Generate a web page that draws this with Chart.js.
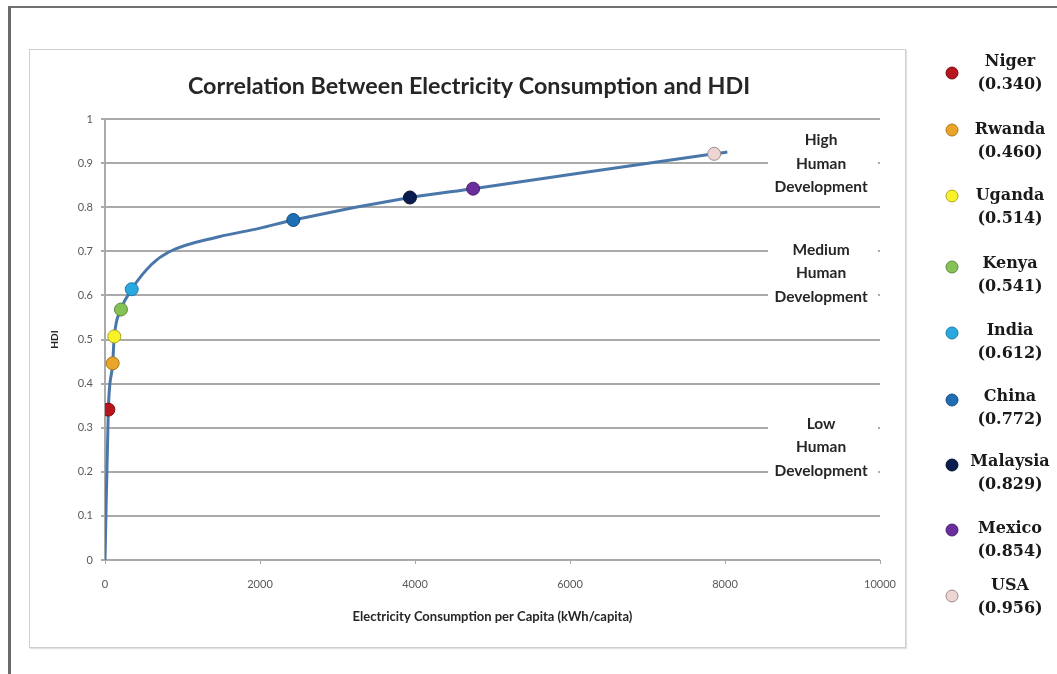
<!DOCTYPE html>
<html>
<head>
<meta charset="utf-8">
<script src="https://cdn.jsdelivr.net/npm/chart.js@4.4.1/dist/chart.umd.min.js"></script>
<style>
  html, body { margin: 0; padding: 0; background: #fff; }
  #wrap { position: relative; width: 1057px; height: 674px; overflow: hidden; }
  #frame { position: absolute; left: 8px; top: 6px; width: 1100px; height: 700px;
           border-top: 2px solid #707070; border-left: 3px solid #6a6a6a; }
  #box { position: absolute; left: 29px; top: 49px; width: 875px; height: 597px;
         border: 1px solid #cfcfcf; box-shadow: 1px 1px 1px #e2e2e2; }
  canvas { position: absolute; left: 0; top: 0; }
</style>
</head>
<body>
<div id="wrap">
  <div id="frame"></div>
  <div id="box"></div>
  <canvas id="myChart" width="1057" height="674"></canvas>
</div>
<script>
// 데이터
const countries = ["Niger", "Rwanda", "Uganda", "Kenya", "India", "China", "Malaysia", "Mexico", "USA"];
const legendHdi = ["(0.340)", "(0.460)", "(0.514)", "(0.541)", "(0.612)", "(0.772)", "(0.829)", "(0.854)", "(0.956)"];
const consumption = [43, 99, 120, 206, 345, 2430, 3935, 4750, 7860];
const hdi = [0.341, 0.446, 0.507, 0.568, 0.614, 0.771, 0.822, 0.842, 0.921];
const pointColors = ["#b8141c", "#e9a528", "#f7f22a", "#86c155", "#2aa8e0", "#1f6db3", "#0b1d4e", "#6b2e9c", "#ecd6d4"];
const pointBorders = ["#7a0c10", "#a8761a", "#a8a51c", "#5a8a38", "#1a7aa8", "#144c80", "#050f2c", "#4a1f6e", "#a08a88"];

// 곡선 (trend line)
const curveX = [0, 43, 99, 120, 206, 345, 600, 830, 1470, 1990, 2430, 3935, 4750, 7860, 8030];
const curveY = [0, 0.341, 0.446, 0.507, 0.568, 0.614, 0.67, 0.699, 0.733, 0.752, 0.771, 0.822, 0.842, 0.921, 0.925];

const xTickLabels = ["0", "2000", "4000", "6000", "8000", "10000"];
const yTickLabels = ["0", "0.1", "0.2", "0.3", "0.4", "0.5", "0.6", "0.7", "0.8", "0.9", "1"];

const bandLabels = [
  ["High", "Human", "Development"],
  ["Medium", "Human", "Development"],
  ["Low", "Human", "Development"],
];
const bandCenters = [0.899, 0.65, 0.256];

const chartTitle = "Correlation Between Electricity Consumption and HDI";

// 텍스트 + 범례 그리는 플러그인
const extras = {
  id: "extras",
  afterDraw(chart) {
    const ctx = chart.ctx;
    const xs = chart.scales.x, ys = chart.scales.y;
    ctx.save();

    // 제목
    ctx.fillStyle = "#262626";
    ctx.font = "bold 23.3px Lato";
    ctx.textAlign = "center";
    ctx.textBaseline = "middle";
    ctx.fillText(chartTitle, 469, 86);

    // 구간 라벨
    const cx = xs.getPixelForValue(9240);
    bandLabels.forEach((lines, i) => {
      const cy = ys.getPixelForValue(bandCenters[i]);
      ctx.fillStyle = "#fff";
      ctx.fillRect(768, cy - 35, 110, 70);
      ctx.fillStyle = "#262626";
      ctx.font = "bold 15.5px Lato";
      lines.forEach((t, j) => ctx.fillText(t, cx, cy + (j - 1) * 23.5));
    });

    // 범례
    const dotY = [73, 130, 196, 267, 333, 400, 465, 530, 596];
    const textY = [62, 130, 196, 264, 331, 397, 462, 529, 586];
    countries.forEach((c, i) => {
      ctx.beginPath();
      ctx.arc(952, dotY[i], 6, 0, Math.PI * 2);
      ctx.fillStyle = pointColors[i];
      ctx.fill();
      ctx.lineWidth = 1;
      ctx.strokeStyle = pointBorders[i];
      ctx.stroke();
      ctx.fillStyle = "#1a1a1a";
      ctx.font = "bold 16px 'DejaVu Serif'";
      ctx.fillText(c, 1010, textY[i]);
      ctx.fillText(legendHdi[i], 1010, textY[i] + 23);
    });
    ctx.restore();
  },
};

const ctx = document.getElementById("myChart").getContext("2d");
const myChart = new Chart(ctx, {
  type: "scatter",
  data: {
    datasets: [
      {
        // 국가 점
        data: consumption.map((x, i) => ({ x: x, y: hdi[i] })),
        pointRadius: 6.5,
        pointBackgroundColor: pointColors,
        pointBorderColor: pointBorders,
        pointBorderWidth: 1,
        showLine: false,
        order: 0,
      },
      {
        // 선
        data: curveX.map((x, i) => ({ x: x, y: curveY[i] })),
        showLine: true,
        pointRadius: 0,
        borderColor: "#4a77aa",
        borderWidth: 3,
        cubicInterpolationMode: "monotone",
        order: 1,
      },
    ],
  },
  options: {
    responsive: false,
    animation: false,
    layout: { padding: { left: 45, top: 119, right: 177, bottom: 46 } },
    plugins: { legend: { display: false }, title: { display: false }, tooltip: { enabled: false } },
    scales: {
      x: {
        type: "linear",
        min: 0,
        max: 10000,
        afterFit(s) { s.height = 68; },
        ticks: {
          stepSize: 2000,
          padding: 14,
          color: "#595959",
          font: { family: "Lato", size: 11 },
          callback: (v, i) => xTickLabels[i],
        },
        grid: { drawOnChartArea: false, drawTicks: true, tickLength: 4, color: "#a8a8a8" },
        border: { display: false },
        title: {
          display: true,
          text: "Electricity Consumption per Capita (kWh/capita)",
          color: "#262626",
          font: { family: "Lato", size: 13, weight: "bold" },
          padding: 3,
        },
      },
      y: {
        min: 0,
        max: 1,
        afterFit(s) { s.width = 60; },
        ticks: {
          stepSize: 0.1,
          padding: 8,
          color: "#595959",
          font: { family: "Lato", size: 11 },
          callback: (v, i) => yTickLabels[i],
        },
        grid: { color: "#aaaaaa", lineWidth: 2, tickLength: 4 },
        border: { color: "#aaaaaa", width: 2 },
        title: {
          display: true,
          text: "HDI",
          color: "#262626",
          font: { family: "Lato", size: 10, weight: "bold" },
          padding: 4,
        },
      },
    },
  },
  plugins: [extras],
});
</script>
</body>
</html>
